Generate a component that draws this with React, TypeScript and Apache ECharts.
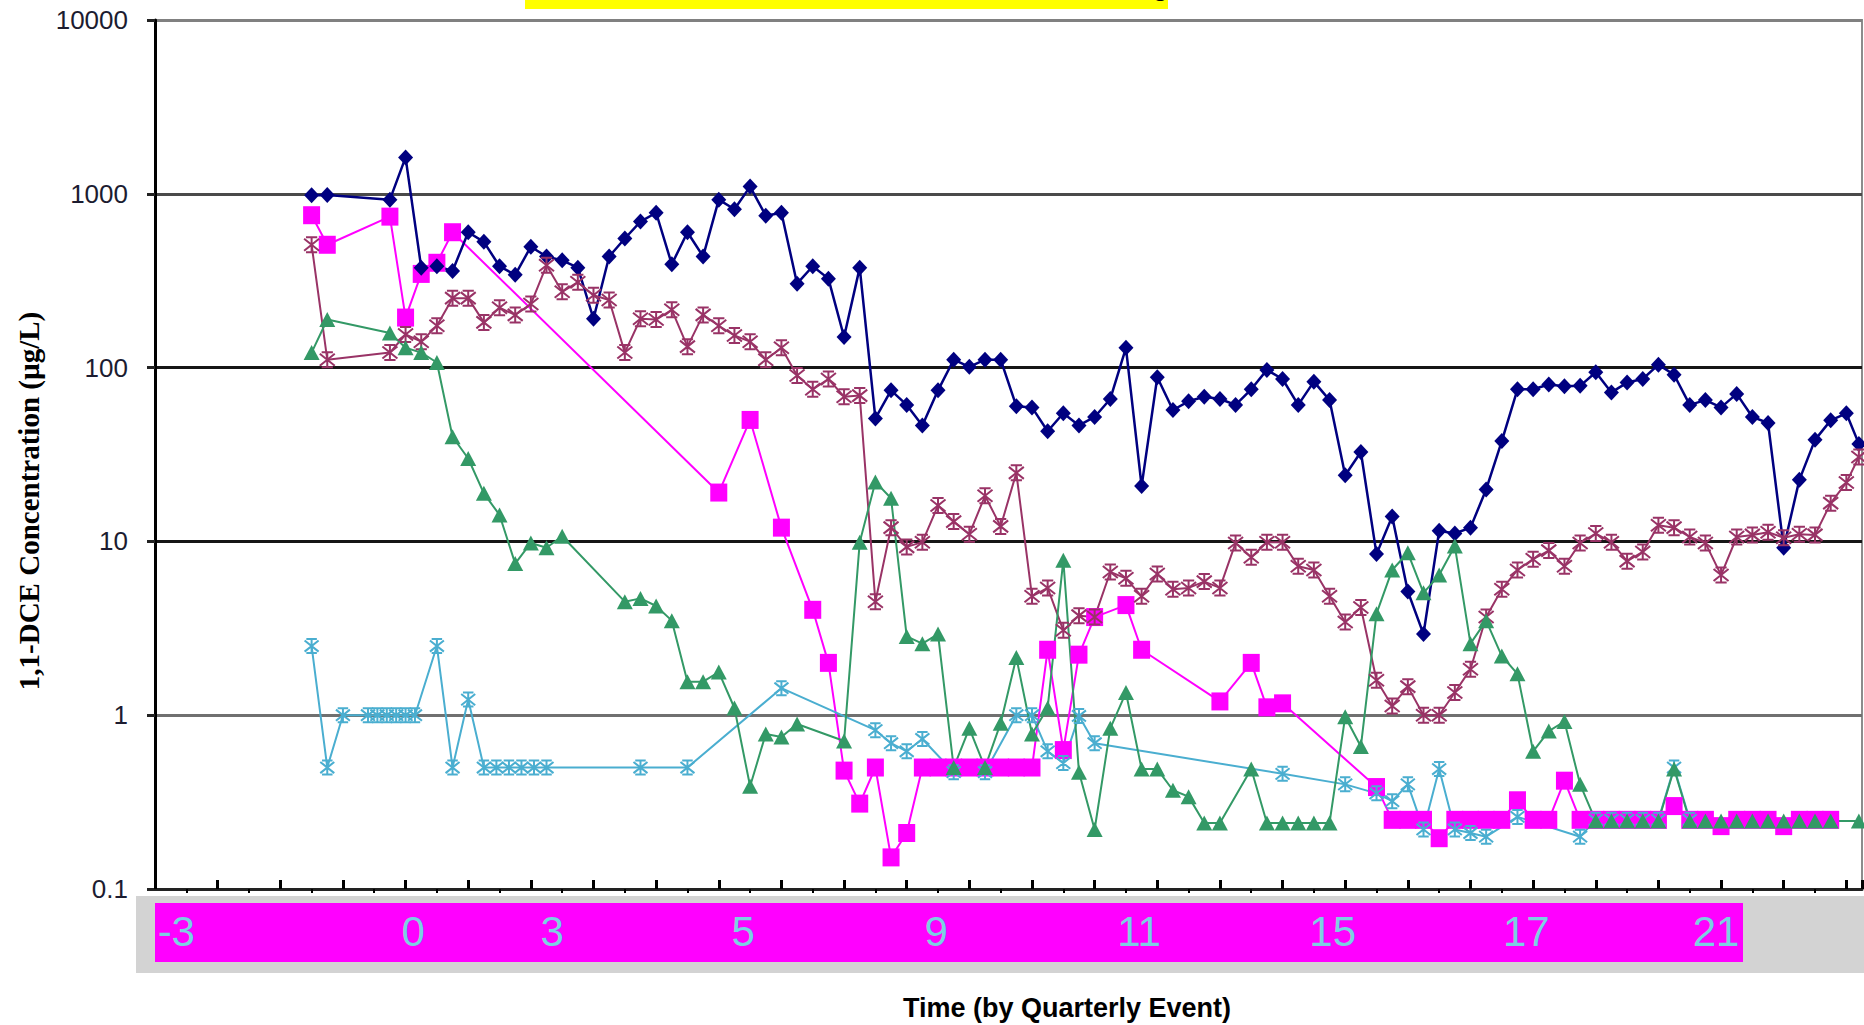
import React, { useEffect, useRef } from "react";
import * as echarts from "echarts";

// concentrations (µg/L) by position on the quarterly time axis
const wellA = [
  [2.5, 980], [2.75, 985], [3.75, 925], [4, 1620], [4.25, 376], [4.5, 383], [4.75, 360],
  [5, 601], [5.25, 529], [5.5, 383], [5.75, 342], [6, 496], [6.25, 436], [6.5, 414],
  [6.75, 376], [7, 191], [7.25, 436], [7.5, 553], [7.75, 692], [8, 778], [8.25, 393],
  [8.5, 601], [8.75, 436], [9, 925], [9.25, 815], [9.5, 1100], [9.75, 748], [10, 778],
  [10.25, 304], [10.5, 383], [10.75, 325], [11, 150], [11.25, 376], [11.5, 51], [11.75, 74],
  [12, 61], [12.25, 46.5], [12.5, 74], [12.75, 111], [13, 101], [13.25, 111], [13.5, 111],
  [13.75, 60], [14, 59], [14.25, 43], [14.5, 54.6], [14.75, 46.5], [15, 52], [15.25, 66],
  [15.5, 130], [15.75, 20.8], [16, 88], [16.25, 57], [16.5, 64], [16.75, 68], [17, 66],
  [17.25, 61], [17.5, 75], [17.75, 97], [18, 86], [18.25, 61], [18.5, 83], [18.75, 65],
  [19, 24], [19.25, 32.7], [19.5, 8.45], [19.75, 13.9], [20, 5.15], [20.25, 2.93],
  [20.5, 11.5], [20.75, 11.1], [21, 12], [21.25, 19.9], [21.5, 37.8], [21.75, 75], [22, 75],
  [22.25, 80], [22.5, 78], [22.75, 78.5], [23, 94], [23.25, 72], [23.5, 82], [23.75, 86],
  [24, 104], [24.25, 91], [24.5, 61], [24.75, 65], [25, 59], [25.25, 70.6], [25.5, 52],
  [25.75, 48], [26, 9.2], [26.25, 22.6], [26.5, 38.4], [26.75, 49.7], [27, 54.6], [27.2, 36.4],
];

const wellB = [
  [2.5, 753], [2.75, 509], [3.75, 739], [4, 194], [4.25, 346], [4.5, 401], [4.75, 601],
  [9, 19.1], [9.5, 50], [10, 12], [10.5, 4.04], [10.75, 2.0], [11, 0.48], [11.25, 0.31],
  [11.5, 0.5], [11.75, 0.152], [12, 0.21], [12.25, 0.5], [12.5, 0.5], [12.75, 0.5], [13, 0.5],
  [13.25, 0.5], [13.5, 0.5], [13.75, 0.5], [14, 0.5], [14.25, 2.38], [14.5, 0.63],
  [14.75, 2.23], [15, 3.67], [15.5, 4.3], [15.75, 2.38], [17, 1.2], [17.5, 2.0], [17.75, 1.11],
  [18, 1.17], [19.5, 0.386], [19.75, 0.25], [20, 0.25], [20.25, 0.25], [20.5, 0.196],
  [20.75, 0.25], [21, 0.25], [21.25, 0.25], [21.5, 0.25], [21.75, 0.324], [22, 0.25],
  [22.25, 0.25], [22.5, 0.42], [22.75, 0.25], [23, 0.25], [23.25, 0.25], [23.5, 0.25],
  [23.75, 0.25], [24, 0.25], [24.25, 0.3], [24.5, 0.25], [24.75, 0.25], [25, 0.23],
  [25.25, 0.25], [25.5, 0.25], [25.75, 0.25], [26, 0.23], [26.25, 0.25], [26.5, 0.25],
  [26.75, 0.25],
];

const wellC = [
  [2.5, 509], [2.75, 111], [3.75, 122], [4, 155], [4.25, 141], [4.5, 174], [4.75, 251],
  [5, 251], [5.25, 182], [5.5, 221], [5.75, 201], [6, 232], [6.25, 388], [6.5, 273],
  [6.75, 310], [7, 261], [7.25, 245], [7.5, 122], [7.75, 191], [8, 189], [8.25, 215],
  [8.5, 132], [8.75, 201], [9, 174], [9.25, 153], [9.5, 141], [9.75, 111], [10, 130],
  [10.25, 90], [10.5, 75], [10.75, 86], [11, 68], [11.25, 69], [11.5, 4.5], [11.75, 12],
  [12, 9.3], [12.25, 9.9], [12.5, 16.1], [12.75, 13], [13, 11], [13.25, 18.3], [13.5, 12.2],
  [13.75, 24.8], [14, 4.83], [14.25, 5.4], [14.5, 3.08], [14.75, 3.74], [15, 3.67],
  [15.25, 6.67], [15.5, 6.13], [15.75, 4.83], [16, 6.5], [16.25, 5.3], [16.5, 5.4],
  [16.75, 5.87], [17, 5.4], [17.25, 9.8], [17.5, 8.1], [17.75, 9.9], [18, 9.9], [18.25, 7.2],
  [18.5, 6.85], [18.75, 4.83], [19, 3.44], [19.25, 4.17], [19.5, 1.59], [19.75, 1.13],
  [20, 1.46], [20.25, 1.0], [20.5, 1.0], [20.75, 1.35], [21, 1.84], [21.25, 3.67], [21.5, 5.3],
  [21.75, 6.85], [22, 7.9], [22.25, 8.85], [22.5, 7.2], [22.75, 9.8], [23, 11.1], [23.25, 9.9],
  [23.5, 7.7], [23.75, 8.7], [24, 12.4], [24.25, 12], [24.5, 10.6], [24.75, 9.8], [25, 6.4],
  [25.25, 10.6], [25.5, 10.9], [25.75, 11.3], [26, 10.5], [26.25, 11], [26.5, 10.9],
  [26.75, 16.6], [27, 21.8], [27.2, 30.6],
];

const wellD = [
  [2.5, 122], [2.75, 189], [3.75, 158], [4, 130], [4.25, 122], [4.5, 107], [4.75, 40],
  [5, 30], [5.25, 18.9], [5.5, 14.2], [5.75, 7.45], [6, 9.8], [6.25, 9.2], [6.5, 10.7],
  [7.5, 4.5], [7.75, 4.7], [8, 4.25], [8.25, 3.5], [8.5, 1.56], [8.75, 1.56], [9, 1.77],
  [9.25, 1.1], [9.5, 0.39], [9.75, 0.78], [10, 0.75], [10.25, 0.89], [11, 0.71], [11.25, 9.9],
  [11.5, 22], [11.75, 17.7], [12, 2.84], [12.25, 2.58], [12.5, 2.93], [12.75, 0.5], [13, 0.84],
  [13.25, 0.5], [13.5, 0.9], [13.75, 2.15], [14, 0.78], [14.25, 1.1], [14.5, 7.8], [14.75, 0.47],
  [15, 0.22], [15.25, 0.84], [15.5, 1.35], [15.75, 0.49], [16, 0.49], [16.25, 0.37],
  [16.5, 0.34], [16.75, 0.24], [17, 0.24], [17.5, 0.49], [17.75, 0.24], [18, 0.24],
  [18.25, 0.24], [18.5, 0.24], [18.75, 0.24], [19, 0.98], [19.25, 0.66], [19.5, 3.84],
  [19.75, 6.85], [20, 8.6], [20.25, 5.06], [20.5, 6.4], [20.75, 9.4], [21, 2.58], [21.25, 3.5],
  [21.5, 2.19], [21.75, 1.73], [22, 0.62], [22.25, 0.81], [22.5, 0.92], [22.75, 0.4],
  [23, 0.246], [23.25, 0.246], [23.5, 0.246], [23.75, 0.246], [24, 0.246], [24.25, 0.49],
  [24.5, 0.246], [24.75, 0.246], [25, 0.246], [25.25, 0.246], [25.5, 0.246], [25.75, 0.246],
  [26, 0.246], [26.25, 0.246], [26.5, 0.246], [26.75, 0.246], [27.2, 0.246],
];

const wellE = [
  [2.5, 2.5], [2.75, 0.5], [3, 1], [3.4, 1], [3.55, 1], [3.7, 1], [3.85, 1], [4, 1], [4.15, 1],
  [4.5, 2.5], [4.75, 0.5], [5, 1.23], [5.25, 0.5], [5.45, 0.5], [5.65, 0.5], [5.85, 0.5],
  [6.05, 0.5], [6.25, 0.5], [7.75, 0.5], [8.5, 0.5], [10, 1.43], [11.5, 0.82], [11.75, 0.69],
  [12, 0.62], [12.25, 0.73], [12.75, 0.47], [13.25, 0.47], [13.75, 1], [14, 1], [14.25, 0.62],
  [14.5, 0.53], [14.75, 0.99], [15, 0.69], [18, 0.46], [19, 0.4], [19.5, 0.355], [19.75, 0.32],
  [20, 0.4], [20.25, 0.22], [20.5, 0.49], [20.75, 0.22], [21, 0.21], [21.25, 0.2], [21.75, 0.26],
  [22.75, 0.2], [23, 0.25], [23.25, 0.25], [23.5, 0.25], [23.75, 0.25], [24, 0.25],
  [24.25, 0.5], [24.5, 0.25],
];

// the event numbers printed in the pink strip under the axis, and where they sit
const eventLabels = ["-3", "0", "3", "5", "9", "11", "15", "17", "21"];
const eventLabelAt = [0.34, 4.12, 6.34, 9.39, 12.47, 15.71, 18.8, 21.89, 24.92];

const X_MAX = 27.25;
const minorTickAt = Array.from({ length: 27 }, (_, i) => i + 0.5);

const starMark = "path://M1,1L9,9M9,1L1,9M5,0L5,10M2,0L8,0M2,10L8,10";

const lineSeries = (name: string, data: number[][], color: string, symbol: string, size: any, width: number, hollow = false) => ({
  type: "line",
  name,
  data,
  symbol,
  symbolSize: size,
  lineStyle: { color, width },
  itemStyle: hollow
    ? { color: "none", borderColor: color, borderWidth: 2 }
    : { color },
  emphasis: { disabled: true },
});

const App = () => {
  const chartRef = useRef<HTMLDivElement>(null);

  useEffect(() => {
    document.body.style.margin = "0";
    document.body.style.overflow = "hidden";
    const chart = echarts.init(chartRef.current as HTMLDivElement, null, { renderer: "svg" });

    const option = {
      animation: false,
      grid: {
        left: 155,
        right: 2,
        top: 20,
        bottom: 136,
        show: true,
        borderColor: "#8c8c8c",
        borderWidth: 2,
      },
      xAxis: [
        {
          type: "value",
          min: 0,
          max: X_MAX,
          interval: 1,
          axisLine: { lineStyle: { color: "#222", width: 3 } },
          axisTick: { inside: true, length: 9, lineStyle: { color: "#000", width: 3 } },
          axisLabel: { show: false },
          splitLine: { show: false },
        },
        {
          type: "value",
          min: 0,
          max: X_MAX,
          position: "bottom",
          axisLine: { show: false },
          axisTick: { show: true, customValues: minorTickAt, length: 4, lineStyle: { color: "#000", width: 2 } },
          axisLabel: {
            customValues: eventLabelAt,
            formatter: (v: number) => {
              let k = 0;
              eventLabelAt.forEach((p, i) => {
                if (Math.abs(p - v) < Math.abs(eventLabelAt[k] - v)) k = i;
              });
              return eventLabels[k];
            },
            fontFamily: "Liberation Sans, Arial, sans-serif",
            fontSize: 42,
            color: "#7ccfe2",
            margin: 21,
          },
          splitLine: { show: false },
        },
      ],
      yAxis: {
        type: "log",
        logBase: 10,
        min: 0.1,
        max: 10000,
        axisLine: { show: true, lineStyle: { color: "#000", width: 3 } },
        axisTick: { show: true, length: 8, lineStyle: { color: "#222", width: 3 } },
        axisLabel: {
          fontFamily: "Liberation Sans, Arial, sans-serif",
          fontSize: 26,
          color: "#1c1c30",
          margin: 27,
          formatter: (v: number) => (v < 1 ? v.toFixed(1) : String(Math.round(v))),
        },
        splitLine: {
          show: true,
          lineStyle: { color: ["#444", "#707070", "#161616", "#161616", "#4a4a4a", "#808080"], width: 3 },
        },
      },
      graphic: [
        { type: "rect", z: -10, shape: { x: 136, y: 896, width: 1728, height: 77 }, style: { fill: "#d3d3d3" } },
        { type: "rect", z: -9, shape: { x: 155, y: 903, width: 1588, height: 59 }, style: { fill: "#ff00ff" } },
        { type: "rect", z: -9, shape: { x: 525, y: 0, width: 643, height: 9 }, style: { fill: "#ffff00" } },
        {
          // chart title, pushed above the page so only the tail of its last letter shows
          type: "text",
          x: 1168,
          y: -29,
          style: {
            text: "Concentrations Over Time - Monitoring",
            textAlign: "right",
            textVerticalAlign: "top",
            font: "28px 'Liberation Sans', Arial, sans-serif",
            fill: "#000",
          },
        },
        {
          type: "text",
          x: 29,
          y: 501,
          rotation: Math.PI / 2,
          style: {
            text: "1,1-DCE Concentration (µg/L)",
            textAlign: "center",
            textVerticalAlign: "middle",
            font: "bold 29px 'Liberation Serif', 'Times New Roman', serif",
            fill: "#000",
          },
        },
        {
          type: "text",
          x: 1067,
          y: 1008,
          style: {
            text: "Time (by Quarterly Event)",
            textAlign: "center",
            textVerticalAlign: "middle",
            font: "bold 27px 'Liberation Sans', Arial, sans-serif",
            fill: "#000",
          },
        },
      ],
      series: [
        lineSeries("MW-B", wellB, "#ff00ff", "rect", [17, 18], 2),
        lineSeries("MW-E", wellE, "#4aaed0", starMark, 14, 2, true),
        lineSeries("MW-A", wellA, "#000080", "diamond", [15, 16], 2.5),
        lineSeries("MW-C", wellC, "#993366", starMark, 15, 2, true),
        lineSeries("MW-D", wellD, "#339966", "triangle", [16, 15], 2),
      ],
    };

    chart.setOption(option);
    return () => {
      chart.dispose();
    };
  }, []);

  return <div ref={chartRef} style={{ width: "1864px", height: "1025px" }} />;
};

export default App;
